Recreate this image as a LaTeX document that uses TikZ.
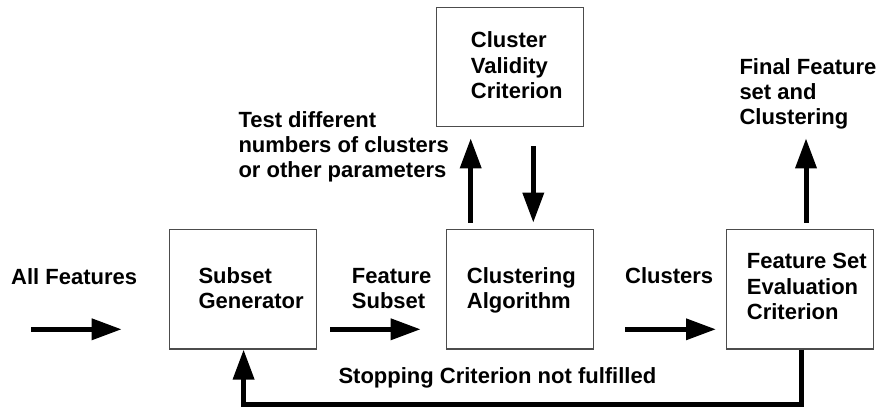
\documentclass[tikz,border=0pt]{standalone}
\usepackage{fontspec}
\setmainfont{Liberation Sans}
\usetikzlibrary{arrows.meta,calc}

\tikzset{
  blockbox/.style={draw=black!70, line width=1.1pt, fill=white,
    minimum width=147pt, minimum height=119.5pt, inner sep=0pt},
  % anchored at the baseline of the last line
  lbl/.style={anchor=base west, inner sep=0pt, align=left,
    font=\fontsize{22}{25.3}\selectfont\bfseries},
  flow/.style={line width=5pt, -{Triangle[length=30pt,width=20.5pt]}},
  feedback/.style={line width=5pt, line join=miter,
    -{Triangle[length=30pt,width=20.5pt]}}
}

\begin{document}
\begin{tikzpicture}[x=1pt,y=-1pt]
  \useasboundingbox[fill=white] (0,0) rectangle (879,407);

  % blocks
  \node[blockbox] (cvc)    at (510.3,66.9)  {};
  \node[blockbox] (subset) at (242.7,289.2) {};
  \node[blockbox] (clust)  at (520.0,289.2) {};
  \node[blockbox] (fsec)   at (800.3,289.2) {};

  % block texts
  \node[lbl] (tcvc)    at (470.7,98.3)  {Cluster\\Validity\\Criterion};
  \node[lbl] (tsubset) at (198.3,308.8) {Subset\\Generator};
  \node[lbl] (tclust)  at (466.7,308.8) {Clustering\\Algorithm};
  \node[lbl] (tfsec)   at (746.7,319.5) {Feature Set\\Evaluation\\Criterion};

  % flow labels
  \node[lbl] (tall)   at (11,284)      {All Features};
  \node[lbl] (tfsub)  at (351.7,308.8) {Feature\\Subset};
  \node[lbl] (tclu)   at (625,283.3)   {Clusters};
  \node[lbl] (ttest)  at (238.3,177.6) {Test different\\numbers of clusters\\or other parameters};
  \node[lbl] (tfinal) at (739.3,124.6) {Final Feature\\set and\\Clustering};
  \node[lbl] (tstop)  at (338.3,383.3) {Stopping Criterion not fulfilled};

  % arrow end points
  \coordinate (inA)   at (31,329.3);
  \coordinate (inB)   at (121.7,329.3);
  \coordinate (fsA)   at (330,329.3);
  \coordinate (fsB)   at (420.7,329.3);
  \coordinate (clA)   at (625,329.3);
  \coordinate (clB)   at (716,329.3);
  \coordinate (upA)   at (470.7,222.7);
  \coordinate (upB)   at (470.7,138.3);
  \coordinate (dnA)   at (533.3,146);
  \coordinate (dnB)   at (533.3,222.7);
  \coordinate (outA)  at (806,222.7);
  \coordinate (outB)  at (806,138.3);
  \coordinate (fbR)   at (801,404.5);
  \coordinate (fbL)   at (243.6,404.5);

  % arrows
  \draw[flow] (inA) -- (inB);
  \draw[flow] (fsA) -- (fsB);
  \draw[flow] (clA) -- (clB);
  \draw[flow] (upA) -- (upB);
  \draw[flow] (dnA) -- (dnB);
  \draw[flow] (outA) -- (outB);
  \draw[feedback] (fsec.south -| fbR) -- (fbR) -- (fbL) -- (fbL |- subset.south);
\end{tikzpicture}
\end{document}
